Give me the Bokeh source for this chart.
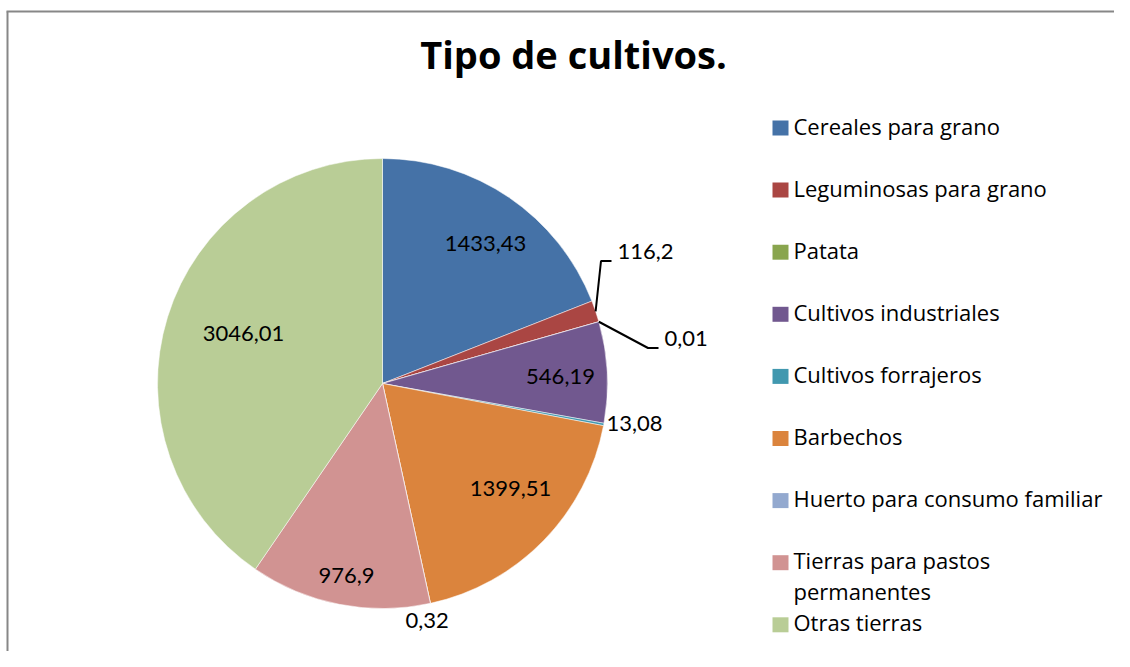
import textwrap
import numpy as np
from bokeh.plotting import figure
from bokeh.models import Range1d, ColumnDataSource
from bokeh.core.properties import value
from bokeh.embed import file_html
from bokeh.resources import INLINE

# ---- data ----
categories = ["Cereales para grano", "Leguminosas para grano", "Patata",
              "Cultivos industriales", "Cultivos forrajeros", "Barbechos",
              "Huerto para consumo familiar", "Tierras para pastos permanentes",
              "Otras tierras"]
values = [1433.43, 116.2, 0.01, 546.19, 13.08, 1399.51, 0.32, 976.9, 3046.01]
colors = ["#4572A7", "#AA4643", "#89A54E", "#71588F", "#4198AF", "#DB843D",
          "#93A9CF", "#D19392", "#B9CD96"]
title = "Tipo de cultivos."

# ---- layout (screen pixel coordinates) ----
# label anchor (x, y, align, leader)
label_layout = [
    (485, 245, "center", False),
    (617, 253, "left", True),
    (664, 340, "left", True),
    (560, 378, "center", False),
    (606, 425, "left", False),
    (510, 490, "center", False),
    (405, 622, "left", False),
    (346, 577, "center", False),
    (243, 335, "center", False),
]

W, H = 1114, 651
PAGE_H = 667
TXT_DY = 2.5  # visual correction for 'middle' baseline
LABEL_FONT = "Lato"
LEGEND_FONT = "Open Sans"


def sy(y):
    return PAGE_H - y


p = figure(width=W, height=H, x_range=Range1d(0, W),
           y_range=Range1d(PAGE_H - H, PAGE_H),
           output_backend="svg", toolbar_location=None, min_border=0)
p.axis.visible = False
p.grid.visible = False
p.outline_line_color = None
p.background_fill_color = "white"
p.border_fill_color = "white"

# frame
p.line(x=[7, 7], y=[sy(11), sy(667)], line_color="#878787", line_width=2)
p.line(x=[6, 1130], y=[sy(11), sy(11)], line_color="#878787", line_width=2)

# pie
cx, cy, R = 382, 383, 225
vals = np.array(values, dtype=float)
frac = vals / vals.sum()
cum_end = np.cumsum(frac)
cum_start = cum_end - frac
start_angle = np.pi / 2 - cum_end * 2 * np.pi
end_angle = np.pi / 2 - cum_start * 2 * np.pi
src = ColumnDataSource(dict(start=start_angle, end=end_angle, color=colors, cat=categories))
p.wedge(x=cx, y=sy(cy), radius=R, start_angle="start", end_angle="end",
        fill_color="color", line_color="white", line_width=1, line_alpha=0.5,
        source=src)

# value labels
mid = (cum_start + cum_end) / 2 * 2 * np.pi  # clockwise from top
for i, v in enumerate(values):
    txt = str(v).replace(".", ",")
    lx, ly, al, leader = label_layout[i]
    p.text(x=[lx], y=[sy(ly - TXT_DY)], text=[txt], text_align=al, text_baseline="middle",
           text_font=value(LABEL_FONT), text_font_size="22px", text_color="black")
    if leader:
        ex = cx + R * np.sin(mid[i])
        ey = cy - R * np.cos(mid[i])
        p.line(x=[ex, lx - 16.5, lx - 6], y=[sy(ey), sy(ly + 7.5), sy(ly + 7.5)],
               line_color="black", line_width=2)

# title
p.text(x=[573], y=[sy(56 - TXT_DY)], text=[title], text_align="center",
       text_baseline="middle", text_font=value(LEGEND_FONT),
       text_font_style="bold", text_font_size="38px", text_color="black")

# legend
row0, step = 127.5, 62.1
for i, (cat, col) in enumerate(zip(categories, colors)):
    ry = row0 + step * i
    p.rect(x=[780], y=[sy(ry)], width=16, height=15, fill_color=col, line_color=None)
    lines = textwrap.fill(cat, 28).split("\n")
    for k, ln in enumerate(lines):
        p.text(x=[793], y=[sy(ry + 31 * k - TXT_DY)], text=[ln], text_align="left",
               text_baseline="middle", text_font=value(LEGEND_FONT),
               text_font_size="22px", text_color="black")

open("out.html", "w").write(file_html(p, INLINE))
